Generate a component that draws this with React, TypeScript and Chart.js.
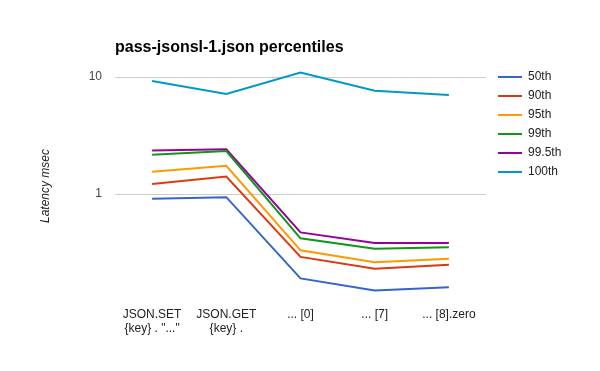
import React, { useEffect, useRef } from "react";
import { Chart, registerables } from "chart.js";
Chart.register(...registerables);

const chartTitle = "pass-jsonsl-1.json percentiles";
const yAxisTitle = "Latency msec";
const categories: (string | string[])[] = [
  ["JSON.SET", '{key} . "..."'],
  ["JSON.GET", "{key} ."],
  "... [0]",
  "... [7]",
  "... [8].zero",
];
const seriesNames = ["50th", "90th", "95th", "99th", "99.5th", "100th"];
const seriesColors = ["#3366cc", "#dc3912", "#ff9900", "#109618", "#990099", "#0099c6"];
const p50 = [0.91, 0.94, 0.19, 0.15, 0.16];
const p90 = [1.22, 1.41, 0.29, 0.23, 0.249];
const p95 = [1.55, 1.74, 0.33, 0.261, 0.28];
const p99 = [2.17, 2.33, 0.418, 0.341, 0.35];
const p995 = [2.36, 2.41, 0.47, 0.381, 0.381];
const p100 = [9.25, 7.16, 10.9, 7.64, 7.02];
const seriesValues = [p50, p90, p95, p99, p995, p100];
const yTicks = [1, 10];
const yMin = 0.1194;
const yMax = 11.48;

const FONT = "'Liberation Sans', Arial, sans-serif";

const overlayPlugin = {
  id: "overlay",
  afterDraw(chart: any) {
    const ctx = chart.ctx;
    ctx.save();
    ctx.fillStyle = "#000";
    ctx.font = `bold 16px ${FONT}`;
    ctx.textBaseline = "alphabetic";
    ctx.textAlign = "left";
    ctx.fillText(chartTitle, 115, 52);
    chart.data.datasets.forEach((ds: any, i: number) => {
      const y = 77 + i * 19;
      ctx.strokeStyle = ds.borderColor;
      ctx.lineWidth = 2;
      ctx.beginPath();
      ctx.moveTo(498, y);
      ctx.lineTo(522, y);
      ctx.stroke();
      ctx.fillStyle = "#222";
      ctx.font = `12px ${FONT}`;
      ctx.textBaseline = "middle";
      ctx.fillText(ds.label, 528, y);
    });
    ctx.restore();
  },
};

export default function App() {
  const ref = useRef<HTMLCanvasElement>(null);
  useEffect(() => {
    if (!ref.current) return;
    const chart = new Chart(ref.current, {
      type: "line",
      data: {
        labels: categories as any,
        datasets: seriesValues.map((vals, i) => ({
          label: seriesNames[i],
          data: vals,
          borderColor: seriesColors[i],
          backgroundColor: seriesColors[i],
          borderWidth: 2,
          pointRadius: 0,
          tension: 0,
          fill: false,
        })),
      },
      options: {
        responsive: false,
        animation: false,
        devicePixelRatio: 1,
        layout: { padding: { left: 34, right: 114, top: 70, bottom: 0 } },
        plugins: {
          legend: { display: false },
          title: { display: false },
          tooltip: { enabled: false },
        },
        scales: {
          x: {
            type: "category",
            offset: true,
            grid: { display: false, drawTicks: false },
            border: { display: false },
            ticks: {
              autoSkip: false,
              maxRotation: 0,
              minRotation: 0,
              padding: 5,
              color: "#222",
              font: { family: FONT, size: 12 },
            },
            afterFit(scale: any) {
              scale.height = 69;
            },
          },
          y: {
            type: "logarithmic",
            min: yMin,
            max: yMax,
            grid: { color: "#cccccc", lineWidth: 1, drawTicks: false },
            border: { display: false },
            ticks: {
              padding: 13,
              color: "#444",
              font: { family: FONT, size: 12 },
              callback: (v: any) => String(v),
            },
            afterBuildTicks(scale: any) {
              scale.ticks = yTicks.map((v) => ({ value: v }));
            },
            afterFit(scale: any) {
              scale.width = 81;
            },
            title: {
              display: true,
              text: yAxisTitle,
              color: "#222",
              font: { family: FONT, size: 12, style: "italic" },
              padding: { top: 4, bottom: 4 },
            },
          },
        },
      } as any,
      plugins: [overlayPlugin],
    });
    return () => chart.destroy();
  }, []);
  return (
    <div style={{ position: "fixed", left: 0, top: 0, width: 600, height: 371, background: "#fff" }}>
      <canvas ref={ref} width={600} height={371} style={{ display: "block" }} />
    </div>
  );
}
